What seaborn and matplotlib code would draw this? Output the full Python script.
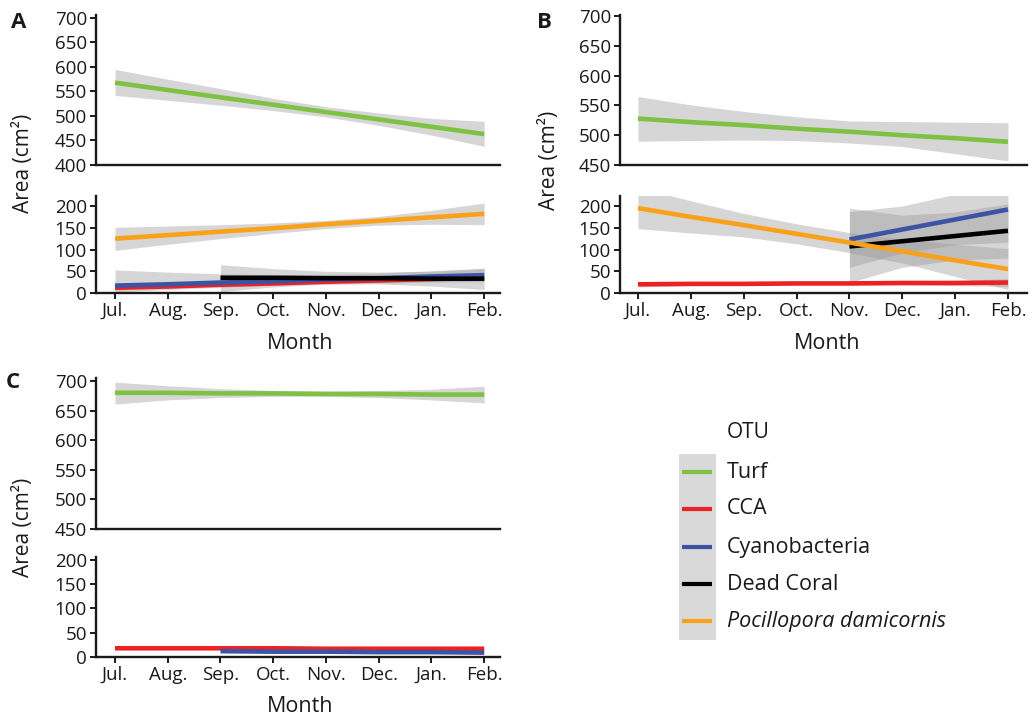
import pandas as pd
import matplotlib.pyplot as plt
from matplotlib.patches import Rectangle
import seaborn as sns

# Month axis and OTU groups
months = ["Jul.", "Aug.", "Sep.", "Oct.", "Nov.", "Dec.", "Jan.", "Feb."]
otu_order = ["Turf", "CCA", "Cyanobacteria", "Dead Coral", "Pocillopora damicornis"]
otu_colors = ["#7dc242", "#ed2024", "#3d53a4", "#000000", "#f9a11b"]

# Panel A: fitted lines and confidence bands
a_turf = [568, 553, 538, 523, 508, 493, 478, 463]
a_turf_lo = [542, 532, 522, 511, 498, 481, 461, 438]
a_turf_hi = [595, 575, 556, 536, 519, 506, 495, 489]
a_cca = [12, 15, 19, 22, 26, 29, 32, 35]
a_cca_lo = [7, 11, 16, 19, 23, 25, 27, 29]
a_cca_hi = [17, 19, 22, 25, 29, 33, 37, 41]
a_cyano = [17, 20, 24, 27, 31, 34, 38, 41]
a_cyano_lo = [2, 8, 13, 18, 21, 23, 25, 26]
a_cyano_hi = [53, 48, 44, 42, 43, 46, 51, 57]
a_dead = [35, 35, 34, 34, 33, 33]          # from Sep.
a_dead_lo = [3, 14, 20, 21, 16, 8]
a_dead_hi = [65, 56, 50, 48, 50, 56]
a_poc = [125, 133, 141, 149, 158, 166, 174, 182]
a_poc_lo = [98, 112, 125, 137, 148, 156, 158, 157]
a_poc_hi = [151, 154, 157, 161, 167, 176, 190, 207]

# Panel B
b_turf = [528, 522, 517, 511, 506, 500, 495, 489]
b_turf_lo = [490, 491, 492, 491, 487, 481, 469, 457]
b_turf_hi = [565, 551, 540, 531, 524, 523, 522, 521]
b_cca = [20, 21, 21, 22, 22, 23, 23, 24]
b_cca_lo = [14, 17, 18, 19, 19, 19, 17, 15]
b_cca_hi = [26, 25, 24, 25, 25, 27, 29, 33]
b_cyano = [123, 146, 169, 192]             # from Nov.
b_cyano_lo = [59, 92, 111, 117]
b_cyano_hi = [187, 200, 227, 267]
b_dead = [107, 119, 131, 143]              # from Nov.
b_dead_lo = [24, 59, 76, 80]
b_dead_hi = [195, 179, 186, 205]
b_poc = [195, 175, 156, 136, 116, 96, 75, 55]
b_poc_lo = [148, 138, 129, 113, 93, 69, 38, 8]
b_poc_hi = [242, 212, 183, 159, 139, 123, 112, 102]

# Panel C
c_turf = [680, 680, 679, 679, 678, 678, 677, 677]
c_turf_lo = [661, 668, 672, 674, 674, 672, 668, 663]
c_turf_hi = [698, 692, 687, 684, 683, 684, 686, 691]
c_cca = [18, 18, 18, 18, 17, 17, 17, 17]
c_cca_lo = [16, 16, 17, 17, 16, 16, 15, 15]
c_cca_hi = [20, 19, 19, 19, 18, 18, 18, 19]
c_cyano = [12, 11, 11, 10, 10, 9]          # from Sep.
c_cyano_lo = [10, 10, 10, 9, 9, 7]
c_cyano_hi = [14, 12, 12, 11, 11, 11]

series = [
    ("A", "Turf", 0, a_turf, a_turf_lo, a_turf_hi),
    ("A", "CCA", 0, a_cca, a_cca_lo, a_cca_hi),
    ("A", "Cyanobacteria", 0, a_cyano, a_cyano_lo, a_cyano_hi),
    ("A", "Dead Coral", 2, a_dead, a_dead_lo, a_dead_hi),
    ("A", "Pocillopora damicornis", 0, a_poc, a_poc_lo, a_poc_hi),
    ("B", "Turf", 0, b_turf, b_turf_lo, b_turf_hi),
    ("B", "CCA", 0, b_cca, b_cca_lo, b_cca_hi),
    ("B", "Cyanobacteria", 4, b_cyano, b_cyano_lo, b_cyano_hi),
    ("B", "Dead Coral", 4, b_dead, b_dead_lo, b_dead_hi),
    ("B", "Pocillopora damicornis", 0, b_poc, b_poc_lo, b_poc_hi),
    ("C", "Turf", 0, c_turf, c_turf_lo, c_turf_hi),
    ("C", "CCA", 0, c_cca, c_cca_lo, c_cca_hi),
    ("C", "Cyanobacteria", 2, c_cyano, c_cyano_lo, c_cyano_hi),
]

rows = []
for panel, otu, start, fit, lo, hi in series:
    for i in range(len(fit)):
        rows.append({"panel": panel, "otu": otu, "month": start + i,
                     "fit": fit[i], "lo": lo[i], "hi": hi[i]})
df = pd.DataFrame(rows)

sns.set_style("ticks")
plt.rcParams["font.family"] = ["Open Sans", "DejaVu Sans"]

W, H = 1033, 717
fig = plt.figure(figsize=(W / 100, H / 100), dpi=100)


def add_px_axes(x0, y_top, x1, y_bot):
    return fig.add_axes([x0 / W, 1 - y_bot / H, (x1 - x0) / W, (y_bot - y_top) / H])


palette = dict(zip(otu_order, otu_colors))

# panel -> (upper box, upper ylim, upper ticks, lower box, lower ylim, xlim)
layout = {
    "A": ((96, 15, 500, 165), (400, 706), range(400, 701, 50),
          (96, 196, 500, 293), (0, 223), (-0.36, 7.30)),
    "B": ((620, 15, 1027, 165), (450, 702), range(450, 701, 50),
          (620, 196, 1027, 293), (0, 223), (-0.34, 7.36)),
    "C": ((96, 378, 500, 529), (450, 705), range(450, 701, 50),
          (96, 557, 500, 657), (0, 206), (-0.36, 7.30)),
}

txt = "#1a1a1a"
tick_kw = dict(labelsize=13.5, length=4.5, width=1.4, pad=2, colors=txt)

for panel, (ubox, ulim, uticks, lbox, llim, xlim) in layout.items():
    ax_up = add_px_axes(*ubox)
    ax_lo = add_px_axes(*lbox)
    pdf = df[df["panel"] == panel]
    for otu in otu_order:
        sub = pdf[pdf["otu"] == otu]
        if sub.empty:
            continue
        ax = ax_up if otu == "Turf" else ax_lo
        ax.fill_between(sub["month"], sub["lo"], sub["hi"], color="#999999",
                        alpha=0.4, linewidth=0)
        sns.lineplot(data=sub, x="month", y="fit", color=palette[otu], lw=3.3,
                     ax=ax, solid_capstyle="butt")
    for ax in (ax_up, ax_lo):
        ax.set_xlim(*xlim)
        ax.set_xlabel("")
        ax.set_ylabel("")
        for side in ("top", "right"):
            ax.spines[side].set_visible(False)
        for side in ("left", "bottom"):
            ax.spines[side].set_linewidth(1.7)
            ax.spines[side].set_color(txt)
        ax.tick_params(**tick_kw)
    ax_up.set_ylim(*ulim)
    ax_up.set_yticks(list(uticks))
    ax_up.set_xticks([])
    ax_lo.set_ylim(*llim)
    ax_lo.set_yticks([0, 50, 100, 150, 200])
    ax_lo.set_xticks(range(len(months)))
    ax_lo.set_xticklabels(months)

# axis titles and panel letters
fig.text(24 / W, 1 - 163 / H, "Area (cm²)", rotation=90, ha="center", va="center", fontsize=15, color=txt)
fig.text(550 / W, 1 - 160 / H, "Area (cm²)", rotation=90, ha="center", va="center", fontsize=15, color=txt)
fig.text(24 / W, 1 - 527 / H, "Area (cm²)", rotation=90, ha="center", va="center", fontsize=15, color=txt)
fig.text(300 / W, 1 - 343 / H, "Month", ha="center", va="center", fontsize=15.5, color=txt)
fig.text(827 / W, 1 - 343 / H, "Month", ha="center", va="center", fontsize=15.5, color=txt)
fig.text(300 / W, 1 - 706 / H, "Month", ha="center", va="center", fontsize=15.5, color=txt)
fig.text(11 / W, 1 - 22 / H, "A", ha="left", va="center", fontsize=16, fontweight="bold", color=txt)
fig.text(537 / W, 1 - 22 / H, "B", ha="left", va="center", fontsize=16, fontweight="bold", color=txt)
fig.text(6 / W, 1 - 383 / H, "C", ha="left", va="center", fontsize=16, fontweight="bold", color=txt)

# legend drawn ggplot-style with a grey key background
leg = fig.add_axes([0, 0, 1, 1])
leg.set_xlim(0, W)
leg.set_ylim(H, 0)
leg.axis("off")
leg.patch.set_alpha(0)
leg.add_patch(Rectangle((679, 454), 37, 186, color="#d9d9d9", lw=0))
leg.text(727, 433, "OTU", ha="left", va="center", fontsize=15, color=txt)
key_y = [472, 509, 547, 584, 621]
for otu, col, ky in zip(otu_order, otu_colors, key_y):
    leg.plot([682, 712], [ky, ky], color=col, lw=3, solid_capstyle="butt")
    style = "italic" if otu == "Pocillopora damicornis" else "normal"
    leg.text(727, ky, otu, ha="left", va="center", fontsize=15.5, style=style, color=txt)

fig.savefig("out.png", dpi=100)
